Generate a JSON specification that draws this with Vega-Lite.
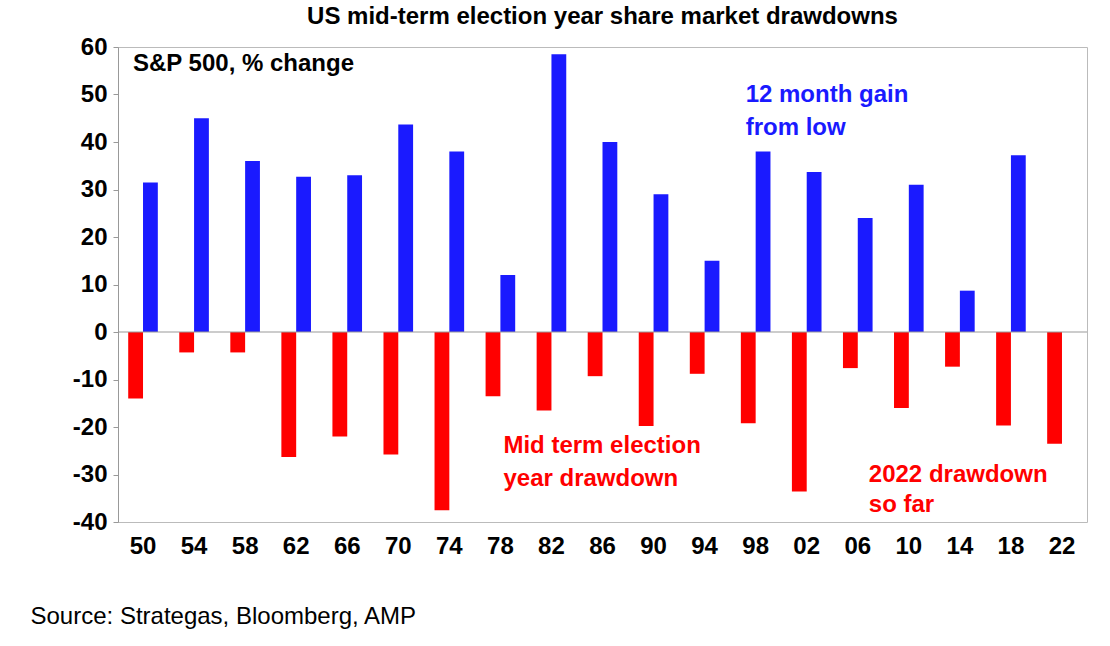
{
  "$schema": "https://vega.github.io/schema/vega-lite/v6.json",
  "autosize": {"type": "fit", "contains": "padding"},
  "width": 1110,
  "height": 646,
  "padding": {"left": 30, "right": 22, "top": 5, "bottom": 18},
  "config": {"font": "Liberation Sans", "view": {"stroke": "#bbbbbb"}},
  "title": {"text": "US mid-term election year share market drawdowns", "fontSize": 24, "fontWeight": "bold", "offset": 6},
  "datasets": {
    "bars": [
      {"year": "50", "series": "a", "value": -14}, {"year": "50", "series": "b", "value": 31.5},
      {"year": "54", "series": "a", "value": -4.3}, {"year": "54", "series": "b", "value": 45},
      {"year": "58", "series": "a", "value": -4.3}, {"year": "58", "series": "b", "value": 36},
      {"year": "62", "series": "a", "value": -26.3}, {"year": "62", "series": "b", "value": 32.7},
      {"year": "66", "series": "a", "value": -22}, {"year": "66", "series": "b", "value": 33},
      {"year": "70", "series": "a", "value": -25.8}, {"year": "70", "series": "b", "value": 43.7},
      {"year": "74", "series": "a", "value": -37.5}, {"year": "74", "series": "b", "value": 38},
      {"year": "78", "series": "a", "value": -13.5}, {"year": "78", "series": "b", "value": 12},
      {"year": "82", "series": "a", "value": -16.5}, {"year": "82", "series": "b", "value": 58.5},
      {"year": "86", "series": "a", "value": -9.3}, {"year": "86", "series": "b", "value": 40},
      {"year": "90", "series": "a", "value": -19.8}, {"year": "90", "series": "b", "value": 29},
      {"year": "94", "series": "a", "value": -8.8}, {"year": "94", "series": "b", "value": 15},
      {"year": "98", "series": "a", "value": -19.2}, {"year": "98", "series": "b", "value": 38},
      {"year": "02", "series": "a", "value": -33.6}, {"year": "02", "series": "b", "value": 33.7},
      {"year": "06", "series": "a", "value": -7.6}, {"year": "06", "series": "b", "value": 24},
      {"year": "10", "series": "a", "value": -16}, {"year": "10", "series": "b", "value": 31},
      {"year": "14", "series": "a", "value": -7.3}, {"year": "14", "series": "b", "value": 8.7},
      {"year": "18", "series": "a", "value": -19.7}, {"year": "18", "series": "b", "value": 37.2},
      {"year": "22", "series": "a", "value": -23.5}
    ],
    "notes": [
      {"year": "50", "value": 56.5, "text": "S&P 500, % change", "color": "black", "shift": -10},
      {"year": "98", "value": 50, "text": "12 month gain", "color": "#1a1aff", "shift": -10},
      {"year": "98", "value": 43, "text": "from low", "color": "#1a1aff", "shift": -10},
      {"year": "82", "value": -24, "text": "Mid term election", "color": "red", "shift": -48},
      {"year": "82", "value": -31, "text": "year drawdown", "color": "red", "shift": -48},
      {"year": "10", "value": -30, "text": "2022 drawdown", "color": "red", "shift": -40},
      {"year": "10", "value": -36.5, "text": "so far", "color": "red", "shift": -40}
    ]
  },
  "encoding": {
    "x": {
      "field": "year", "type": "nominal", "sort": null,
      "scale": {"paddingInner": 0.42, "paddingOuter": 0.2},
      "axis": {
        "labelAngle": 0, "labelFontSize": 24, "labelFontWeight": "bold", "labelColor": "black",
        "ticks": false, "domain": false, "labelPadding": 12,
        "title": "Source: Strategas, Bloomberg, AMP", "titleFontSize": 24, "titleFontWeight": "normal",
        "titleAnchor": "start", "titleAlign": "left", "titleX": -88, "titleY": 82
      }
    },
    "y": {
      "field": "value", "type": "quantitative",
      "scale": {"domain": [-40, 60], "nice": false},
      "axis": {
        "values": [-40, -30, -20, -10, 0, 10, 20, 30, 40, 50, 60],
        "labelExpr": "replace(datum.label, '−', '-')",
        "grid": false, "title": null, "labelFontSize": 24, "labelFontWeight": "bold",
        "labelColor": "black", "domainColor": "#999", "tickColor": "#999", "labelPadding": 6
      }
    }
  },
  "layer": [
    {
      "data": {"name": "bars"},
      "mark": {"type": "bar"},
      "encoding": {
        "xOffset": {"field": "series", "type": "nominal", "scale": {"domain": ["a", "b"], "paddingInner": 0}},
        "color": {"field": "series", "type": "nominal", "scale": {"domain": ["a", "b"], "range": ["#ff0000", "#1a1aff"]}, "legend": null}
      }
    },
    {
      "data": {"values": [{"value": 0}]},
      "mark": {"type": "rule", "color": "#999"},
      "encoding": {"x": null, "y": {"field": "value", "type": "quantitative"}}
    },
    {
      "data": {"name": "notes"},
      "transform": [{"filter": "datum.shift == -10"}],
      "mark": {"type": "text", "align": "left", "fontSize": 24, "fontWeight": "bold", "dx": -10},
      "encoding": {"text": {"field": "text"}, "color": {"field": "color", "type": "nominal", "scale": null}}
    },
    {
      "data": {"name": "notes"},
      "transform": [{"filter": "datum.shift == -48"}],
      "mark": {"type": "text", "align": "left", "fontSize": 24, "fontWeight": "bold", "dx": -48},
      "encoding": {"text": {"field": "text"}, "color": {"field": "color", "type": "nominal", "scale": null}}
    },
    {
      "data": {"name": "notes"},
      "transform": [{"filter": "datum.shift == -40"}],
      "mark": {"type": "text", "align": "left", "fontSize": 24, "fontWeight": "bold", "dx": -40},
      "encoding": {"text": {"field": "text"}, "color": {"field": "color", "type": "nominal", "scale": null}}
    }
  ]
}
